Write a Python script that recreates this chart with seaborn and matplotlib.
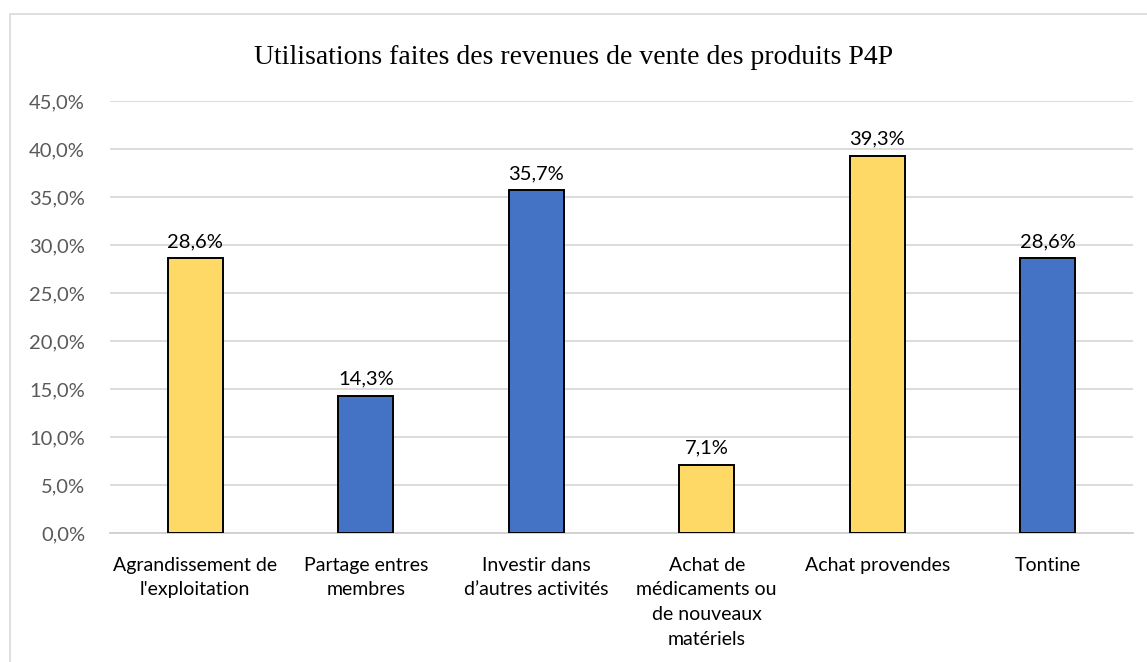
import matplotlib
matplotlib.use("Agg")
import matplotlib.pyplot as plt
import seaborn as sns
import pandas as pd
from matplotlib.patches import Rectangle
from matplotlib.ticker import FuncFormatter, MultipleLocator

categories = [
    "Agrandissement de\nl'exploitation",
    "Partage entres\nmembres",
    "Investir dans\nd\u2019autres activités",
    "Achat de\nmédicaments ou\nde nouveaux\nmatériels",
    "Achat provendes",
    "Tontine",
]
values = [0.286, 0.143, 0.357, 0.071, 0.393, 0.286]
bar_colors = ["#FFD966", "#4472C4", "#4472C4", "#FFD966", "#FFD966", "#4472C4"]
title = "Utilisations faites des revenues de vente des produits P4P"

sns.set_theme(style="white")
plt.rcParams["font.family"] = ["Lato", "DejaVu Sans"]

fig = plt.figure(figsize=(11.47, 6.62), dpi=100)
ax = fig.add_axes([110 / 1147, 1 - 533 / 662, (1133 - 110) / 1147, (533 - 101) / 662])

df = pd.DataFrame({"cat": categories, "val": values})
sns.barplot(data=df, x="cat", y="val", hue="cat", palette=bar_colors, legend=False,
            saturation=1, width=0.32, edgecolor="black", linewidth=1.4, ax=ax, zorder=3)

ax.set_ylim(0, 0.45)
ax.set_xlim(-0.5, len(categories) - 0.5)
ax.yaxis.set_major_locator(MultipleLocator(0.05))
ax.yaxis.set_major_formatter(FuncFormatter(lambda v, p: f"{v*100:.1f}%".replace(".", ",")))
ax.grid(axis="y", color="#d9d9d9", linewidth=1.3, zorder=0)
ax.set_axisbelow(True)
for s in ["top", "right", "left"]:
    ax.spines[s].set_visible(False)
ax.spines["bottom"].set_color("#d0d0d0")
ax.spines["bottom"].set_linewidth(1.3)
ax.set_xlabel("")
ax.set_ylabel("")
ax.tick_params(axis="y", labelsize=14.5, labelcolor="#595959", length=0, pad=18)
ax.tick_params(axis="x", labelsize=14, labelcolor="black", length=0, pad=17)
for lab in ax.get_xticklabels():
    lab.set_linespacing(1.55)
    lab.set_verticalalignment("top")

for cont in ax.containers:
    ax.bar_label(cont, labels=[f"{v*100:.1f}%".replace(".", ",") for v in cont.datavalues],
                 padding=6, fontsize=14.5, color="black")

fig.text(0.5, 1 - 57 / 662, title, ha="center", va="center", fontsize=20,
         family="Liberation Serif", color="black")

fig.patches.append(Rectangle((10 / 1147, -0.05), 1.2, 1 - 14 / 662 + 0.05,
                             transform=fig.transFigure, fill=False,
                             edgecolor="#d9d9d9", linewidth=1.2))

fig.savefig("out.png", dpi=100)
